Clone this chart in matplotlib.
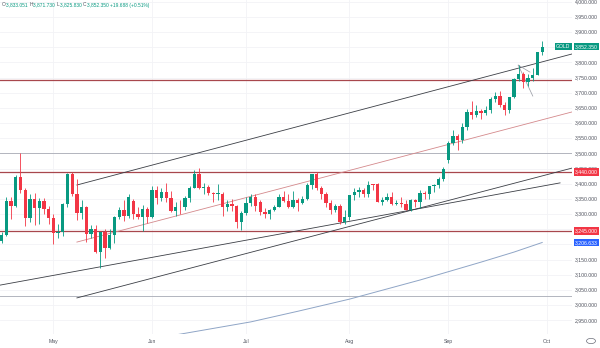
import matplotlib
matplotlib.use('Agg')
import matplotlib.pyplot as plt
import numpy as np
import pandas as pd

plt.rcParams['font.family'] = ['Liberation Sans', 'DejaVu Sans']

# daily bars, US holidays dropped
holidays = ['2025-04-18', '2025-05-26', '2025-06-19', '2025-07-04', '2025-09-01']
dates = [d for d in pd.bdate_range('2025-04-15', '2025-09-30')
         if d.strftime('%Y-%m-%d') not in holidays]

opens = [3210, 3230, 3342, 3327, 3424, 3380, 3288, 3349, 3319, 3343, 3317,
         3288, 3239, 3240, 3334, 3431, 3365, 3305, 3325, 3236, 3250,
         3176, 3240, 3187, 3230, 3289, 3315, 3295, 3342, 3300, 3289, 3318,
         3289, 3381, 3353, 3373, 3353, 3310, 3325, 3322, 3354, 3386, 3433,
         3385, 3388, 3369, 3368, 3368, 3323, 3333, 3328, 3274,
         3303, 3338, 3357, 3340, 3306, 3302, 3313, 3324, 3355, 3343, 3324,
         3347, 3338, 3350, 3397, 3431, 3387, 3368, 3337, 3314, 3326, 3275,
         3289, 3363, 3373, 3380, 3368, 3399, 3398, 3341, 3348, 3356, 3335,
         3336, 3332, 3315, 3347, 3339, 3371, 3365, 3393, 3396, 3416,
         3477, 3533, 3559, 3545, 3587, 3636, 3626, 3640, 3634, 3643, 3679,
         3690, 3659, 3643, 3685, 3746, 3763, 3736, 3749, 3760, 3833.051]
highs = [3240, 3357, 3358, 3430, 3500, 3386, 3368, 3371, 3352, 3352, 3327,
         3300, 3269, 3336, 3436, 3438, 3415, 3348, 3328, 3265, 3265,
         3240, 3252, 3250, 3295, 3325, 3345, 3366, 3350, 3325, 3330, 3325,
         3392, 3392, 3385, 3403, 3375, 3340, 3346, 3360, 3392, 3446, 3451,
         3404, 3395, 3373, 3398, 3372, 3348, 3350, 3329, 3310,
         3358, 3365, 3366, 3345, 3320, 3317, 3330, 3368, 3375, 3366, 3377,
         3352, 3361, 3402, 3433, 3439, 3393, 3373, 3345, 3334, 3334, 3315,
         3363, 3385, 3390, 3385, 3409, 3400, 3404, 3358, 3369, 3374, 3345,
         3358, 3345, 3350, 3351, 3379, 3376, 3394, 3398, 3423, 3454,
         3540, 3578, 3563, 3600, 3646, 3674, 3658, 3645, 3655, 3685, 3703,
         3707, 3670, 3687, 3749, 3791, 3770, 3761, 3782, 3835, 3871.73]
lows = [3205, 3228, 3284, 3325, 3370, 3260, 3275, 3265, 3268, 3300, 3268,
        3202, 3223, 3228, 3325, 3360, 3280, 3285, 3208, 3220, 3172,
        3121, 3154, 3185, 3204, 3283, 3278, 3287, 3285, 3285, 3245, 3271,
        3287, 3333, 3343, 3339, 3307, 3293, 3302, 3313, 3340, 3385, 3383,
        3366, 3363, 3340, 3347, 3295, 3312, 3311, 3255, 3247,
        3296, 3328, 3311, 3296, 3287, 3283, 3310, 3322, 3341, 3320, 3319,
        3310, 3332, 3345, 3383, 3381, 3351, 3325, 3301, 3308, 3268, 3268,
        3281, 3345, 3355, 3358, 3358, 3381, 3341, 3331, 3342, 3330, 3331,
        3323, 3315, 3311, 3324, 3321, 3351, 3351, 3372, 3385, 3408,
        3470, 3527, 3511, 3534, 3578, 3613, 3621, 3613, 3627, 3633, 3671,
        3654, 3628, 3634, 3684, 3738, 3717, 3722, 3740, 3759, 3825.83]
closes = [3230, 3342, 3327, 3424, 3380, 3288, 3349, 3319, 3343, 3317, 3288,
          3239, 3240, 3334, 3431, 3365, 3305, 3325, 3236, 3250, 3176,
          3240, 3187, 3230, 3289, 3315, 3295, 3357, 3300, 3289, 3318, 3289,
          3381, 3353, 3373, 3353, 3310, 3325, 3322, 3354, 3386, 3433, 3385,
          3388, 3369, 3368, 3368, 3323, 3333, 3328, 3274, 3303,
          3338, 3357, 3326, 3306, 3302, 3313, 3324, 3355, 3343, 3324, 3347,
          3338, 3350, 3397, 3431, 3387, 3368, 3337, 3314, 3326, 3275, 3289,
          3363, 3373, 3380, 3368, 3396, 3397, 3341, 3348, 3356, 3335, 3336,
          3332, 3315, 3347, 3339, 3371, 3365, 3393, 3396, 3416, 3448,
          3533, 3559, 3545, 3587, 3636, 3626, 3640, 3634, 3643, 3679, 3690,
          3659, 3643, 3685, 3746, 3763, 3736, 3749, 3760, 3833, 3852.35]

# slow moving average, read at a few bars
ma_bars = [37, 53, 63, 74, 89, 102, 109, 115]
ma_vals = [2902, 2945, 2980, 3020, 3083, 3142, 3175, 3206.633]

# drawn levels
red_levels = [3742, 3440, 3245]
grey_levels = [3500, 3030]
# trend lines: (bar0, price0, bar1, price1)
black_lines = [(16.0, 3396, 121.4, 3828),
               (-0.4, 3066, 118.8, 3403),
               (16.0, 3024, 121.4, 3452)]
pink_lines = [(16.0, 3208, 121.4, 3637)]
flag_lines = [(109.9, 3791, 113.0, 3689),
              (109.9, 3791, 112.4, 3768)]

month_names = ['May', 'Jun', 'Jul', 'Aug', 'Sep', 'Oct']
price_ticks = [p for p in range(2950, 4001, 50) if p != 3200]

GREEN = '#089981'
RED = '#f23645'
TXT = '#50535e'
FS = 3.7

fig = plt.figure(figsize=(6.0, 3.48), dpi=100)
ax = fig.add_axes([0, 14 / 348, 572 / 600, 334 / 348])
ax.set_xlim(-0.36, 121.34)
ax.set_ylim(2905.1, 4005.6)
for s in ax.spines.values():
    s.set_visible(False)

x = np.arange(len(dates))
o = np.array(opens, float)
h = np.array(highs, float)
l = np.array(lows, float)
c = np.array(closes, float)
cols = np.where(c >= o, GREEN, RED)

# month ticks on first bar of each month, Oct one bar past the end
month_pos = []
for m in [5, 6, 7, 8, 9]:
    month_pos.append(next(i for i, d in enumerate(dates) if d.month == m))
month_pos.append(len(dates))

for p in range(2950, 4001, 50):
    ax.axhline(p, color='#f2f3f6', lw=0.6, zorder=0)
for p in month_pos:
    ax.axvline(p, color='#f2f3f6', lw=0.6, zorder=0)

for lv in grey_levels:
    ax.axhline(lv, color='#b2b5be', lw=0.7, zorder=1)
for lv in red_levels:
    ax.axhline(lv, color='#a8474d', lw=0.9, zorder=1)
for x0, y0, x1, y1 in black_lines:
    ax.plot([x0, x1], [y0, y1], color='#3b3e45', lw=0.6, zorder=1)
for x0, y0, x1, y1 in pink_lines:
    ax.plot([x0, x1], [y0, y1], color='#d4898c', lw=0.6, zorder=1)
for x0, y0, x1, y1 in flag_lines:
    ax.plot([x0, x1], [y0, y1], color='#9598a1', lw=0.5, zorder=1)

ax.plot(ma_bars, ma_vals, color='#8fa5c6', lw=0.7, zorder=1)

ax.vlines(x, l, h, colors=cols, lw=0.6, zorder=2)
ax.bar(x, np.maximum(np.abs(c - o), 0.8), bottom=np.minimum(o, c), width=0.7,
       color=cols, lw=0, zorder=3)

ax.set_xticks([])
ax.set_yticks([])

# price scale on the right
for p in price_ticks:
    ax.annotate('{:,.3f}'.format(p), xy=(1.0, p), xycoords=('axes fraction', 'data'),
                xytext=(2.2, 0), textcoords='offset points', ha='left', va='center',
                fontsize=FS, color=TXT, annotation_clip=False)

def badge(price, text, color):
    ax.annotate(text, xy=(1.0, price), xycoords=('axes fraction', 'data'),
                xytext=(2.2, 0), textcoords='offset points', ha='left', va='center',
                fontsize=FS, color='white', annotation_clip=False, zorder=10,
                bbox=dict(boxstyle='square,pad=0.28', fc=color, ec='none'))

badge(3852.35, '3,852.350', GREEN)
badge(3440, '3,440.000', RED)
badge(3245, '3,245.000', RED)
badge(3206.633, '3,206.633', '#2962ff')
ax.annotate('GOLD', xy=(1.0, 3852.35), xycoords=('axes fraction', 'data'),
            xytext=(-1.2, 0), textcoords='offset points', ha='right', va='center',
            fontsize=FS, color='white', annotation_clip=False, zorder=10,
            bbox=dict(boxstyle='square,pad=0.28', fc=GREEN, ec='none'))

# time scale
for name, p in zip(month_names, month_pos):
    ax.annotate(name, xy=(p, 0), xycoords=('data', 'axes fraction'),
                xytext=(0, -5.2), textcoords='offset points', ha='center', va='center',
                fontsize=FS, color=TXT, annotation_clip=False)
fig.patches.append(plt.Circle((591 / 600, 7 / 348), 0.0075, transform=fig.transFigure,
                              fill=False, ec='#6a6d78', lw=0.5))

# OHLC header
parts = [('O', TXT), ('3,833.051 ', GREEN), ('H', TXT), ('3,871.730 ', GREEN),
         ('L', TXT), ('3,825.830 ', GREEN), ('C', TXT), ('3,852.350 ', GREEN),
         ('+19.688 (+0.51%)', GREEN)]
xpos = 2 / 600
for s, col in parts:
    t = fig.text(xpos, 1 - 5 / 348, s, fontsize=3.5, color=col, ha='left', va='center')
    fig.canvas.draw()
    bb = t.get_window_extent()
    xpos += bb.width / fig.bbox.width + 0.3 / 600

fig.savefig('out.png', dpi=100)
